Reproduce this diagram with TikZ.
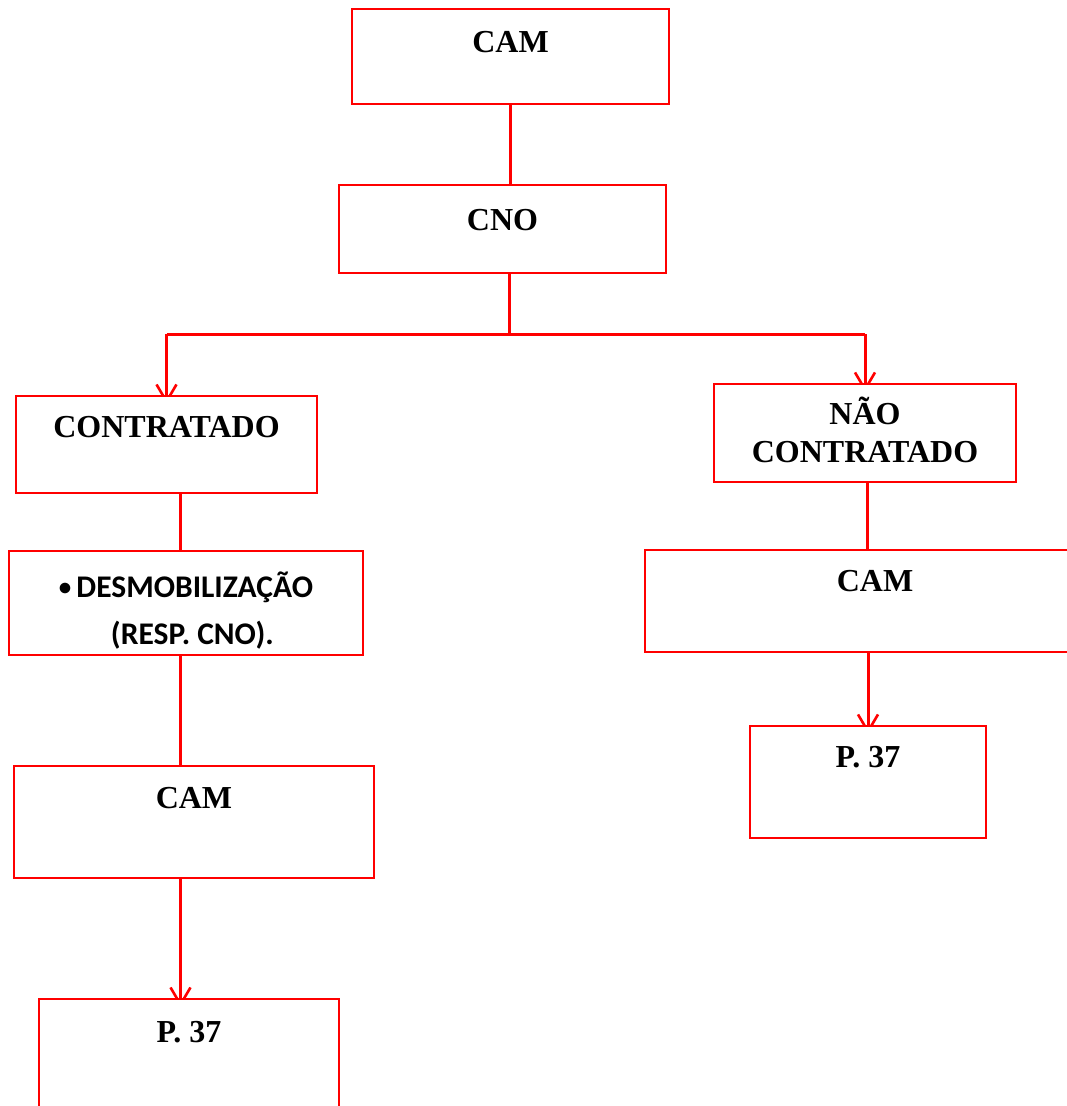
\documentclass[tikz,border=0pt]{standalone}
\usepackage{fontspec}
\setmainfont{Liberation Serif}
\newfontfamily\calibrifont{Carlito}
\usetikzlibrary{arrows.meta,backgrounds}
\begin{document}
\begin{tikzpicture}[x=1pt,y=-1pt,
  box/.style={draw=red, line width=2pt, fill=white, rectangle, inner sep=0pt, anchor=north west,
    font=\fontsize{32}{38}\selectfont\bfseries},
  conn/.style={draw=red, line width=3pt},
  arr/.style={conn, -{Straight Barb[length=17pt,width=20pt,line width=2.6pt]}, shorten >=-9pt}]
\clip (0,0) rectangle (1067,1106);
\node[box, minimum width=317pt, minimum height=95pt, text height=43pt, text depth=52pt] (cam1) at (351,8) {CAM};
\node[box, minimum width=327pt, minimum height=88pt, text height=45pt, text depth=43pt] (cno) at (338,184) {CNO};
\node[box, minimum width=301pt, minimum height=97pt, text height=41pt, text depth=56pt] (contr) at (15,395) {CONTRATADO};
\node[box, minimum width=302pt, minimum height=98pt, text height=40pt, text depth=58pt] (nao) at (713,383)
  {\begin{tabular}[t]{@{}c@{}}NÃO\\CONTRATADO\end{tabular}};
\node[box, minimum width=354pt, minimum height=104pt, text height=46pt, text depth=58pt,
  font=\calibrifont\fontsize{31.5}{47}\selectfont\bfseries] (desm) at (8,550)
  {\begin{tabular}[t]{@{}l@{}}\raisebox{1.5pt}{\fontsize{25}{25}\selectfont\textbullet}\hspace{5pt}DESMOBILIZAÇÃO\\\hspace{52pt}(RESP. CNO).\end{tabular}};
\node[box, minimum width=360pt, minimum height=112pt, text height=42pt, text depth=70pt] (camL) at (13,765) {CAM};
\node[box, minimum width=300pt, minimum height=130pt, text height=43pt, text depth=87pt] (p37L) at (38,998) {P. 37};
\node[box, minimum width=460pt, minimum height=102pt, text height=41pt, text depth=61pt] (camR) at (644,549) {CAM};
\node[box, minimum width=236pt, minimum height=112pt, text height=41pt, text depth=71pt] (p37R) at (749,725) {P. 37};
\coordinate (j) at (509,334);
\begin{pgfonlayer}{background}
\draw[conn] (cam1.south) -- (cam1.south |- cno.north);
\draw[conn] (j |- cno.south) -- (j);
\draw[conn] (contr.north |- j) -- (nao.north |- j);
\draw[arr] (contr.north |- j) -- (contr.north);
\draw[arr] (nao.north |- j) -- (nao.north);
\draw[conn] (contr.south) ++(14,0) coordinate (a1) -- (a1 |- desm.north);
\draw[conn] (a1 |- desm.south) -- (a1 |- camL.north);
\draw[arr] (a1 |- camL.south) -- (a1 |- p37L.north);
\draw[conn] (nao.south) ++(2,0) coordinate (b1) -- (b1 |- camR.north);
\draw[arr] (p37R.north |- camR.south) -- (p37R.north);
\end{pgfonlayer}
\end{tikzpicture}
\end{document}
